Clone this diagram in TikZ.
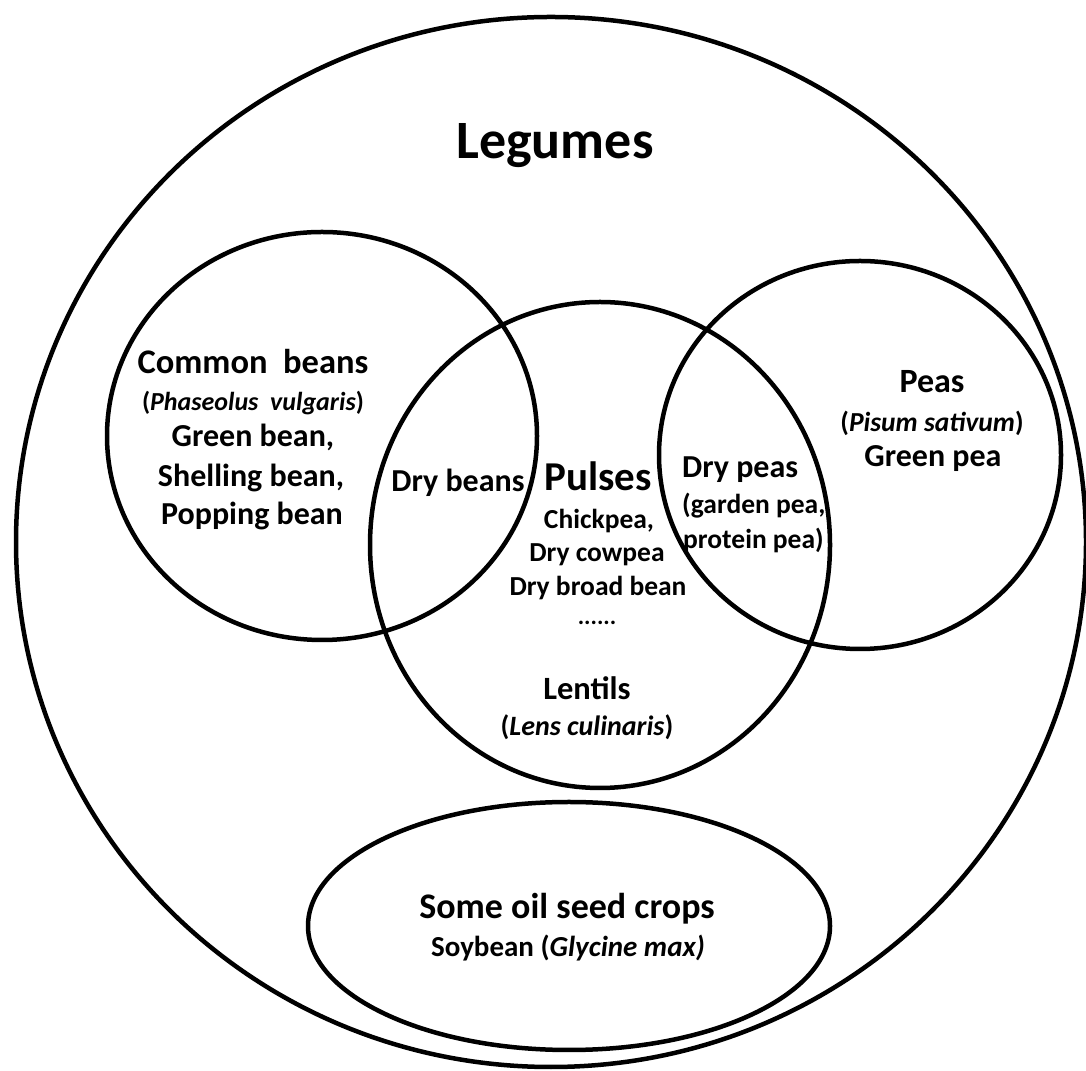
\documentclass[tikz,border=0pt]{standalone}
\usepackage{fontspec}
\setmainfont{Carlito}
\newcommand{\fsz}[1]{\fontsize{#1}{#1}\selectfont}

\begin{document}
\begin{tikzpicture}[x=1pt, y=1pt,
	venn/.style={line width=4.5pt},
	lab/.style={inner sep=0pt, anchor=base, font=\bfseries}]
	\useasboundingbox (0,0) rectangle (1086,1070);
	
	% 集合
	\coordinate (L) at (551,528);
	\coordinate (B) at (322,634);
	\coordinate (P) at (600,525);
	\coordinate (E) at (860,615);
	\coordinate (O) at (569,144);
	
	\draw[venn] (L) ellipse [x radius=535, y radius=525];
	\draw[venn] (B) ellipse [x radius=215, y radius=204];
	\draw[venn] (P) ellipse [x radius=230, y radius=243];
	\draw[venn] (E) ellipse [x radius=201, y radius=194];
	\draw[venn] (O) ellipse [x radius=261, y radius=124];
	
	% Legumes
	\node[lab] (legumes) at (555,911) {\fsz{54}Legumes};
	
	% Common beans
	\node[lab] (common) at (253,696) {\fsz{34.5}Common\ \ beans};
	\node[lab] (phaseolus) at (253,659) {\fsz{26}(\textit{Phaseolus\ \ vulgaris})};
	\node[lab] (greenbean) at (253,623) {\fsz{32}Green bean,};
	\node[lab] (shelling) at (251,583) {\fsz{32}Shelling bean,};
	\node[lab] (popping) at (252,545) {\fsz{32}Popping bean};
	\node[lab] (drybeans) at (458,578) {\fsz{32}Dry beans};
	
	% Pulses
	\node[lab] (pulses) at (598,579) {\fsz{41}Pulses};
	\node[lab] (chickpea) at (599,541) {\fsz{27.5}Chickpea,};
	\node[lab] (cowpea) at (597,508) {\fsz{27.5}Dry cowpea};
	\node[lab] (broadbean) at (598,474) {\fsz{27.5}Dry broad bean};
	\node[lab] (dots) at (597,445) {\fsz{24}......};
	\node[lab] (lentils) at (587,370) {\fsz{32.5}Lentils};
	\node[lab] (lens) at (587,334) {\fsz{28}(\textit{Lens culinaris})};
	
	% Peas
	\node[lab, anchor=base west] (drypeas) at (682,592) {\fsz{32}Dry peas};
	\node[lab, anchor=base west] (garden) at (682,556) {\fsz{27.5}(garden pea,};
	\node[lab, anchor=base west] (protein) at (683,521) {\fsz{27.5}protein pea)};
	\node[lab] (peas) at (932,677) {\fsz{34}Peas};
	\node[lab] (pisum) at (932,638) {\fsz{27.5}(\textit{Pisum sativum})};
	\node[lab] (greenpea) at (933,603) {\fsz{32}Green pea};
	
	% oil seed
	\node[lab] (oilseed) at (567,151) {\fsz{36}Some oil seed crops};
	\node[lab] (soybean) at (568,113) {\fsz{29}Soybean (\textit{Glycine max)}};
\end{tikzpicture}
\end{document}
